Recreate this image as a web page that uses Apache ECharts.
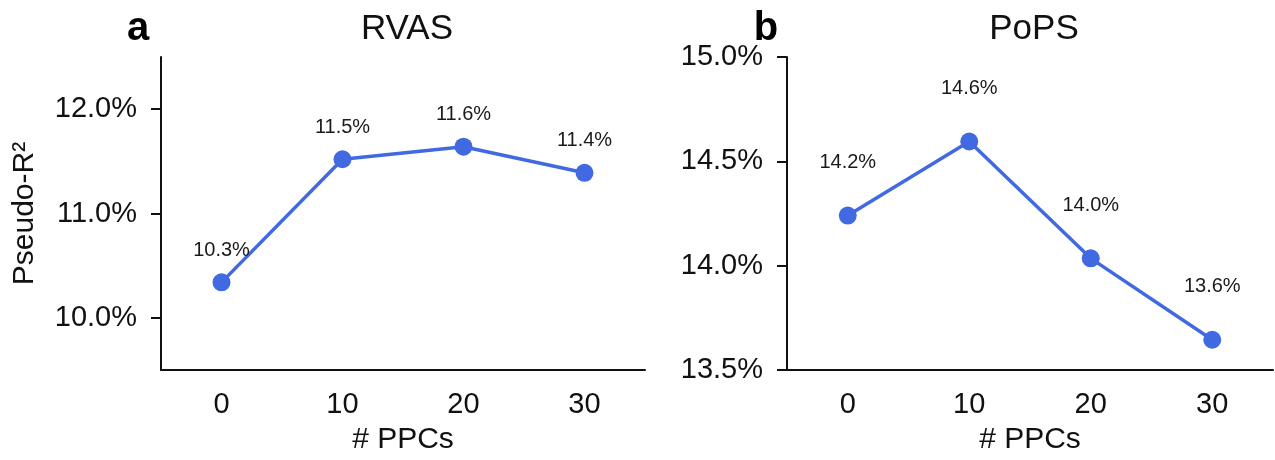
<!DOCTYPE html>
<html>
<head>
<meta charset="utf-8">
<script src="https://cdn.jsdelivr.net/npm/echarts@6/dist/echarts.min.js"></script>
<style>
  html, body { margin: 0; padding: 0; background: #fff; }
  #chart_ppcs { width: 1275px; height: 460px; }
</style>
</head>
<body>
<div id="chart_ppcs"></div>
<script>
// data
var ppcs = ["0", "10", "20", "30"];
var rvasR2 = [10.34, 11.52, 11.64, 11.39];
var popsR2 = [14.24, 14.595, 14.035, 13.645];
var rvasTicks = [10, 11, 12];
var popsTicks = [13.5, 14.0, 14.5, 15.0];
var panelTitles = ["RVAS", "PoPS"];
var panelLetters = ["a", "b"];

var font = "Liberation Sans, Arial, Helvetica, sans-serif";
var blue = "#4169E1";

function pct(v) {
  return v.toFixed(1) + "%";
}

function xAxisFor(idx) {
  return {
    type: "category",
    gridIndex: idx,
    data: ppcs,
    boundaryGap: true,
    name: "# PPCs",
    nameLocation: "middle",
    nameGap: 55,
    nameTextStyle: { fontFamily: font, fontSize: 30, color: "#111" },
    axisLine: { lineStyle: { color: "#111", width: 2 } },
    axisTick: { alignWithLabel: true, length: 10, lineStyle: { color: "#111", width: 2 } },
    axisLabel: { fontFamily: font, fontSize: 29, color: "#111", margin: 20 },
    splitLine: { show: false },
  };
}

function yAxisFor(idx, min, max, ticks) {
  return {
    type: "value",
    gridIndex: idx,
    min: min,
    max: max,
    axisLine: { show: true, lineStyle: { color: "#111", width: 2 } },
    axisTick: { show: true, length: 10, customValues: ticks, lineStyle: { color: "#111", width: 2 } },
    axisLabel: { fontFamily: font, fontSize: 29, color: "#111", margin: 24, customValues: ticks, formatter: pct },
    splitLine: { show: false },
  };
}

function seriesFor(idx, data, dist) {
  return {
    type: "line",
    xAxisIndex: idx,
    yAxisIndex: idx,
    data: data,
    symbol: "circle",
    symbolSize: 18,
    itemStyle: { color: blue },
    lineStyle: { color: blue, width: 3.5 },
    label: {
      show: true,
      position: "top",
      distance: dist,
      fontFamily: font,
      fontSize: 20,
      color: "#1a1a1a",
      formatter: function (p) { return pct(p.value); },
    },
    animation: false,
  };
}

var myChart = echarts.init(document.getElementById("chart_ppcs"));
var option;

var yRvas = yAxisFor(0, 9.5, 12.5, rvasTicks);
yRvas.name = "Pseudo-R²";
yRvas.nameLocation = "middle";
yRvas.nameGap = 121;
yRvas.nameTextStyle = { fontFamily: font, fontSize: 30, color: "#111" };

option = {
  backgroundColor: "#fff",
  animation: false,
  title: [
    { text: panelTitles[0], left: 402, top: 7, textAlign: "center",
      textStyle: { fontFamily: font, fontSize: 35, fontWeight: "normal", color: "#111" } },
    { text: panelTitles[1], left: 1029, top: 7, textAlign: "center",
      textStyle: { fontFamily: font, fontSize: 35, fontWeight: "normal", color: "#111" } },
    { text: panelLetters[0], left: 133, top: 4, textAlign: "center",
      textStyle: { fontFamily: font, fontSize: 40, fontWeight: "bold", color: "#000" } },
    { text: panelLetters[1], left: 761, top: 4, textAlign: "center",
      textStyle: { fontFamily: font, fontSize: 40, fontWeight: "bold", color: "#000" } },
  ],
  grid: [
    { left: 161, top: 57, width: 484, height: 315 },
    { left: 787, top: 57, width: 486, height: 315 },
  ],
  xAxis: [xAxisFor(0), xAxisFor(1)],
  yAxis: [yRvas, yAxisFor(1, 13.5, 15.0, popsTicks)],
  series: [seriesFor(0, rvasR2, 13), seriesFor(1, popsR2, 34)],
};

option && myChart.setOption(option);
</script>
</body>
</html>
